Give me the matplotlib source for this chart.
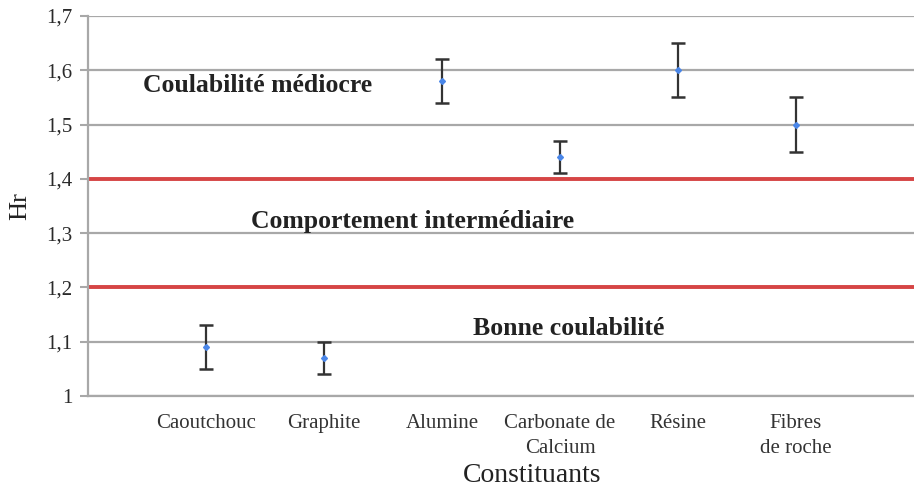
import matplotlib
matplotlib.use("Agg")
import matplotlib.pyplot as plt
from matplotlib.ticker import FixedLocator

categories = ["Caoutchouc", "Graphite", "Alumine", "Carbonate de\nCalcium", "Résine", "Fibres\nde roche"]
hr_mean = [1.09, 1.07, 1.58, 1.44, 1.60, 1.50]
hr_err = [0.04, 0.03, 0.04, 0.03, 0.05, 0.05]
limit_lines = [1.4, 1.2]
yticks = [1.0, 1.1, 1.2, 1.3, 1.4, 1.5, 1.6, 1.7]
ytick_labels = ["1", "1,1", "1,2", "1,3", "1,4", "1,5", "1,6", "1,7"]
zones = [("Coulabilité médiocre", 1.44, 1.572),
         ("Comportement intermédiaire", 2.75, 1.321),
         ("Bonne coulabilité", 4.07, 1.125)]

plt.rcParams['font.family'] = ['Liberation Serif', 'DejaVu Serif']

fig = plt.figure(figsize=(9.14, 4.92), dpi=100)
ax = fig.add_axes([88/914, 1-396/492, 1-88/914, 380/492])

x = list(range(1, len(categories)+1))
ax.set_xlim(0, len(categories)+1)
ax.set_ylim(1.0, 1.7)

ax.yaxis.set_major_locator(FixedLocator(yticks))
ax.set_yticklabels(ytick_labels, fontsize=15, color='#2a2a2a')
ax.grid(axis='y', color='#a8a8a8', linewidth=1.6)
ax.set_axisbelow(True)

for yl in limit_lines:
    ax.axhline(yl, color='#d64545', linewidth=2.8, zorder=2)

ax.errorbar(x, hr_mean, yerr=hr_err, fmt='D', color='#4a86e8', markersize=3,
            ecolor='#333333', elinewidth=1.6, capsize=5, capthick=1.8, zorder=3)

ax.set_xticks(x)
ax.set_xticklabels(categories, fontsize=15, color='#333333', linespacing=1.4)
ax.tick_params(axis='x', length=0, pad=13)
ax.tick_params(axis='y', length=6, width=1.5, color='#a8a8a8', pad=5)

for s in ['top', 'right']:
    ax.spines[s].set_visible(False)
for s in ['left', 'bottom']:
    ax.spines[s].set_color('#a8a8a8')
    ax.spines[s].set_linewidth(1.6)

for txt, tx, ty in zones:
    ax.text(tx, ty, txt, fontsize=18.5, fontweight='bold', ha='center', va='center', color='#222222')

ax.set_ylabel("Hr", fontsize=19, color='#222222', va='center')
ax.yaxis.set_label_coords(-68/826, 0.5)
ax.set_xlabel("Constituants", fontsize=20, color='#222222', va='center')
ax.xaxis.set_label_coords((532-88)/826, -(476-396)/380)

fig.savefig("out.png", dpi=100)
